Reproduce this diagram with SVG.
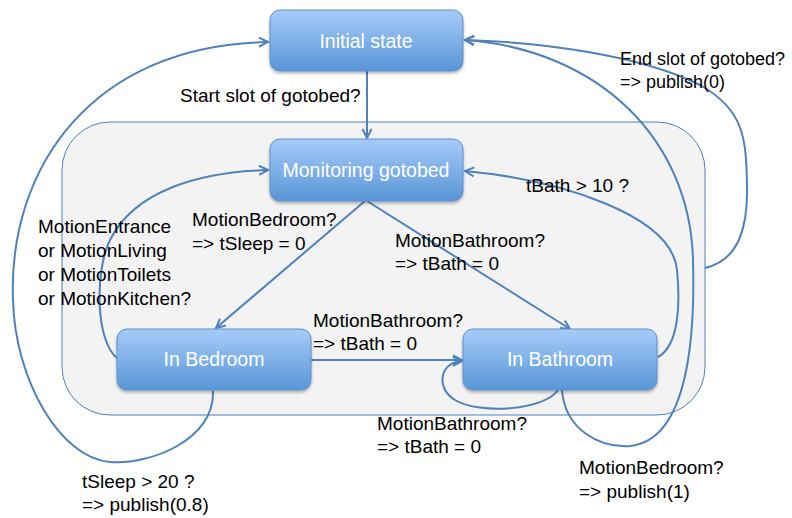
<svg xmlns="http://www.w3.org/2000/svg" width="792" height="518" viewBox="0 0 792 518">
<defs>
<linearGradient id="g" x1="0" y1="0" x2="0" y2="1">
<stop offset="0" stop-color="#a7cbf8"/>
<stop offset="1" stop-color="#5896d8"/>
</linearGradient>
<filter id="sh" x="-10%" y="-10%" width="120%" height="140%">
<feDropShadow dx="0" dy="2" stdDeviation="1.5" flood-color="#000" flood-opacity="0.3"/>
</filter>
<marker id="ar" markerUnits="userSpaceOnUse" markerWidth="12" markerHeight="12" viewBox="0 0 12 12" refX="10" refY="6" orient="auto">
<path d="M1,1.5 L10,6 L1,10.5" fill="none" stroke="#4f81bd" stroke-width="2"/>
</marker>
<style>
.n{fill:url(#g);stroke:#5f8fcc;stroke-width:1;filter:url(#sh)}
.nt{font-family:"Liberation Sans",Arial,sans-serif;font-size:19.5px;fill:#fff;text-anchor:middle}
.c{fill:none;stroke:#4f81bd;stroke-width:2}
.a{marker-end:url(#ar)}
.l{font-family:"Liberation Sans",Arial,sans-serif;font-size:19px;fill:#000}
.s{font-size:18px}
</style>
</defs>
<g id="container">
<rect x="62" y="122" width="643" height="293" rx="48" ry="48" fill="#f3f3f3" stroke="#4f81bd" stroke-width="1"/>
</g>
<g id="connectors">
<path class="c a" d="M367,71 L367,138"/>
<path class="c a" d="M365,201 L216,328"/>
<path class="c a" d="M367,201 L570,329"/>
<path class="c a" d="M311,360 L462,360"/>
<path class="c a" d="M558,390 C545,410 480,415 455,400 C435,388 440,362 462,361"/>
<path class="c a" d="M658,357 C680,345 680,300 677,270 C672,215 560,180 465,171"/>
<path class="c a" d="M117,358 C95,340 95,270 110,240 C135,190 200,172 268,170"/>
<path class="c a" d="M213,391 C215,440 150,465 110,462 C60,458 15,380 13,300 C8,170 90,45 268,42"/>
<path class="c a" d="M562,390 C565,430 600,448 630,446 C690,440 695,330 693,260 C690,140 600,50 465,40"/>
<path class="c a" d="M705,268 C740,260 748,225 747,185 C746,140 745,110 700,85 C640,55 540,42 465,40"/>
</g>
<g id="labels">
<text class="l" x="180" y="102">Start slot of gotobed?</text>
<text class="l s" x="620" y="65">End slot of gotobed?</text>
<text class="l s" x="620" y="88">=&gt; publish(0)</text>
<text class="l" x="38" y="233">MotionEntrance</text>
<text class="l" x="38" y="257">or MotionLiving</text>
<text class="l" x="38" y="281">or MotionToilets</text>
<text class="l" x="38" y="305">or MotionKitchen?</text>
<text class="l" x="192" y="226">MotionBedroom?</text>
<text class="l" x="192" y="250">=&gt; tSleep = 0</text>
<text class="l" x="395" y="247">MotionBathroom?</text>
<text class="l" x="395" y="270">=&gt; tBath = 0</text>
<text class="l" x="526" y="192">tBath &gt; 10 ?</text>
<text class="l" x="313" y="327">MotionBathroom?</text>
<text class="l" x="313" y="350">=&gt; tBath = 0</text>
<text class="l" x="377" y="430">MotionBathroom?</text>
<text class="l" x="377" y="453">=&gt; tBath = 0</text>
<text class="l" x="82" y="488">tSleep &gt; 20 ?</text>
<text class="l" x="82" y="511">=&gt; publish(0.8)</text>
<text class="l" x="579" y="474">MotionBedroom?</text>
<text class="l" x="579" y="498">=&gt; publish(1)</text>
</g>
<g id="initial">
<rect class="n" x="270" y="10" width="193" height="61" rx="10"/>
<text class="nt" x="366" y="48">Initial state</text>
</g>
<g id="monitoring">
<rect class="n" x="270" y="139" width="193" height="62" rx="10"/>
<text class="nt" x="366" y="177">Monitoring gotobed</text>
</g>
<g id="bedroom">
<rect class="n" x="117" y="329" width="194" height="61" rx="10"/>
<text class="nt" x="214" y="366">In Bedroom</text>
</g>
<g id="bathroom">
<rect class="n" x="463" y="329" width="194" height="61" rx="10"/>
<text class="nt" x="560" y="366">In Bathroom</text>
</g>
</svg>
